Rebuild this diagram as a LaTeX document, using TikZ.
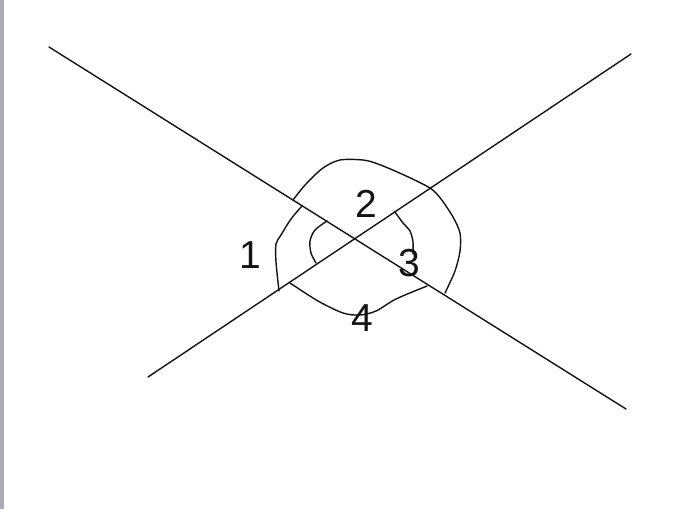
\documentclass[tikz,border=0pt]{standalone}
\usepackage{fontspec}
\setmainfont{Liberation Sans}
\definecolor{barcol}{RGB}{172,170,180}
\definecolor{ink}{RGB}{20,20,20}
\begin{document}
\begin{tikzpicture}[x=1pt,y=-1pt,
  stroke/.style={draw=ink,line width=1.4pt,line cap=round,line join=round},
  arc/.style={stroke,smooth,tension=0.5},
  lbl/.style={inner sep=0pt,font=\fontsize{39}{42}\selectfont,text=ink}]
\useasboundingbox (0,0) rectangle (691,509);
\fill[barcol] (0,0) rectangle (4,509);
% the two crossing lines
\coordinate (aStart) at (49,47);
\coordinate (aEnd) at (626,409);
\coordinate (bStart) at (148,377);
\coordinate (bEnd) at (631,54);
\draw[stroke] (aStart) -- (aEnd);
\draw[stroke] (bStart) -- (bEnd);
% outer curve
\draw[arc] plot coordinates {(279,291) (276,262) (276,244) (281,235) (291,219) (302,206)};
\draw[arc] plot coordinates {(293,200) (306,184) (323,168) (340,160) (363,160) (378,164) (404,175) (430,188) (441,199) (453,217) (460,233) (460,251) (455,271) (445,293)};
% bottom curve
\draw[arc] plot coordinates {(290,283) (318,301) (343,313) (360,315) (376,311) (396,299) (427,286)};
% inner arcs
\draw[arc] plot coordinates {(327,221) (315,230) (310,241) (311,253) (316,263)};
\draw[arc] plot coordinates {(395,212) (403,223) (410,231) (413,242) (413,254)};
% labels
\node[lbl] (n1) at (250,255) {1};
\node[lbl] (n2) at (366,204) {2};
\node[lbl] (n3) at (409,263) {3};
\node[lbl] (n4) at (362,318) {4};
\end{tikzpicture}
\end{document}
